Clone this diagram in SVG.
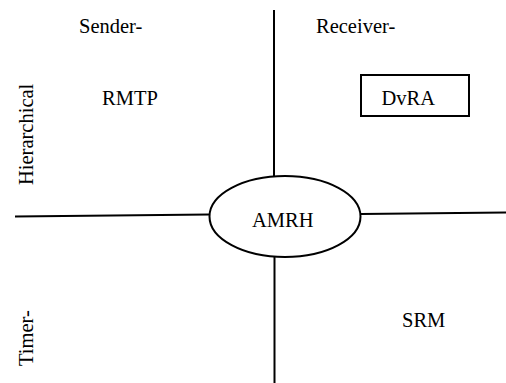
<svg xmlns="http://www.w3.org/2000/svg" width="506" height="383" viewBox="0 0 506 383">
<style>
text{font-family:'Liberation Serif',serif;font-size:20.5px;fill:#000}
.ln{stroke:#000;stroke-width:2;fill:none}
</style>
<rect width="506" height="383" fill="#fff"/>
<g id="connectors">
<line class="ln" x1="274" y1="10" x2="274" y2="176"/>
<line class="ln" x1="274.5" y1="257" x2="274.5" y2="383"/>
<line class="ln" x1="15" y1="216.5" x2="209.5" y2="214.5"/>
<line class="ln" x1="361" y1="214" x2="506" y2="212.5"/>
</g>
<g id="labels" font-family="Liberation Serif">
<text x="79" y="33">Sender-</text>
<text x="316" y="33">Receiver-</text>
<text transform="translate(33,185) rotate(-90)">Hierarchical</text>
<text transform="translate(33,366) rotate(-90)">Timer-</text>
</g>
<g id="RMTP"><text x="102" y="105">RMTP</text></g>
<g id="DvRA"><rect class="ln" x="361" y="75" width="108" height="41"/><text x="381.5" y="105">DvRA</text></g>
<g id="AMRH"><ellipse class="ln" cx="285" cy="216.5" rx="75.5" ry="40.5"/><text x="252" y="227">AMRH</text></g>
<g id="SRM"><text x="402" y="327">SRM</text></g>
</svg>
